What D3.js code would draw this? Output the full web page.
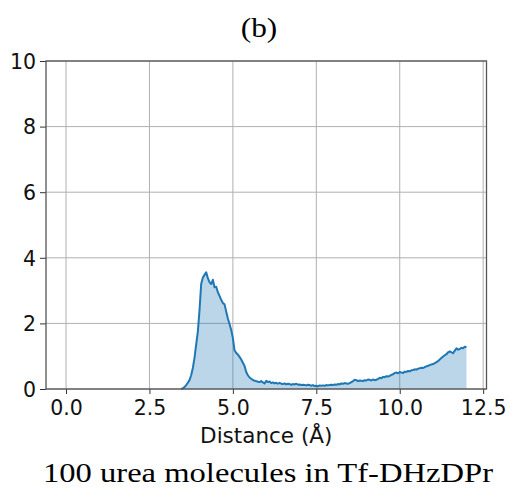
<!DOCTYPE html>
<html>
<head>
<meta charset="UTF-8">
<script src="https://d3js.org/d3.v7.min.js"></script>
<style>
  body { margin: 0; background: white; }
  svg { display: block; }
  .tick text { font-family: "DejaVu Sans", sans-serif; }
</style>
</head>
<body>
<div id="chart"></div>
<script>
// RDF values
const distance = [
  3.45, 3.50, 3.55, 3.60, 3.65, 3.70, 3.75, 3.80, 3.85, 3.90, 3.95,
  4.00, 4.05, 4.10, 4.15, 4.20, 4.25, 4.30, 4.35, 4.40, 4.45, 4.50, 4.55, 4.60, 4.65, 4.70, 4.75, 4.80, 4.85, 4.90, 4.95,
  5.00, 5.05, 5.10, 5.15, 5.20, 5.25, 5.30, 5.35, 5.40, 5.45, 5.50, 5.55, 5.60, 5.65, 5.70, 5.75, 5.80, 5.85, 5.90, 5.95,
  6.00, 6.05, 6.10, 6.15, 6.20, 6.25, 6.30, 6.35, 6.40, 6.45, 6.50, 6.55, 6.60, 6.65, 6.70, 6.75, 6.80, 6.85, 6.90, 6.95,
  7.00, 7.05, 7.10, 7.15, 7.20, 7.25, 7.30, 7.35, 7.40, 7.45, 7.50, 7.55, 7.60, 7.65, 7.70, 7.75, 7.80, 7.85, 7.90, 7.95,
  8.00, 8.05, 8.10, 8.15, 8.20, 8.25, 8.30, 8.35, 8.40, 8.45, 8.50, 8.55, 8.60, 8.65, 8.70, 8.75, 8.80, 8.85, 8.90, 8.95,
  9.00, 9.05, 9.10, 9.15, 9.20, 9.25, 9.30, 9.35, 9.40, 9.45, 9.50, 9.55, 9.60, 9.65, 9.70, 9.75, 9.80, 9.85, 9.90, 9.95,
  10.00, 10.05, 10.10, 10.15, 10.20, 10.25, 10.30, 10.35, 10.40, 10.45, 10.50, 10.55, 10.60, 10.65, 10.70, 10.75, 10.80, 10.85, 10.90, 10.95,
  11.00, 11.05, 11.10, 11.15, 11.20, 11.25, 11.30, 11.35, 11.40, 11.45, 11.50, 11.55, 11.60, 11.65, 11.70, 11.75, 11.80, 11.85, 11.90, 11.95,
  12.00
];
const gr = [
  0.00, 0.02, 0.06, 0.12, 0.19, 0.27, 0.42, 0.64, 0.95, 1.35, 1.75,
  2.40, 3.20, 3.40, 3.48, 3.56, 3.38, 3.26, 3.20, 3.33, 3.10, 3.12, 2.95, 2.84, 2.72, 2.62, 2.58, 2.36, 2.15, 1.98, 1.80,
  1.55, 1.18, 1.10, 1.05, 0.98, 0.90, 0.80, 0.70, 0.52, 0.42, 0.35, 0.31, 0.28, 0.25, 0.24, 0.22, 0.21, 0.24, 0.20, 0.17,
  0.25, 0.21, 0.23, 0.18, 0.20, 0.17, 0.19, 0.16, 0.19, 0.16, 0.15, 0.17, 0.14, 0.16, 0.15, 0.13, 0.15, 0.14, 0.16, 0.13,
  0.14, 0.12, 0.13, 0.12, 0.11, 0.13, 0.12, 0.10, 0.12, 0.09, 0.10, 0.08, 0.11, 0.10, 0.11, 0.10, 0.12, 0.11, 0.12, 0.13,
  0.12, 0.14, 0.13, 0.15, 0.14, 0.17, 0.16, 0.18, 0.17, 0.16, 0.18, 0.21, 0.24, 0.28, 0.27, 0.24, 0.26, 0.25, 0.24, 0.27,
  0.26, 0.29, 0.28, 0.26, 0.29, 0.27, 0.28, 0.31, 0.34, 0.33, 0.37, 0.36, 0.39, 0.38, 0.40, 0.43, 0.45, 0.49, 0.50, 0.48,
  0.52, 0.50, 0.49, 0.53, 0.52, 0.55, 0.54, 0.57, 0.58, 0.60, 0.59, 0.62, 0.63, 0.65, 0.64, 0.67, 0.69, 0.71, 0.73, 0.75,
  0.76, 0.79, 0.82, 0.85, 0.90, 0.95, 0.99, 1.03, 1.06, 1.12, 1.15, 1.12, 1.09, 1.17, 1.24, 1.20, 1.22, 1.26, 1.24, 1.29,
  1.28
];
const xTicks = [0, 2.5, 5, 7.5, 10, 12.5];
const yTicks = [0, 2, 4, 6, 8, 10];

const data = distance.map((d, i) => ({ d: d, g: gr[i] }));

const width = 512, height = 490;
const margin = { top: 61, right: 25.5, bottom: 101, left: 46 };

const svg = d3.select("#chart").append("svg")
  .attr("width", width)
  .attr("height", height);

const x = d3.scaleLinear().domain([-0.6, 12.6]).range([margin.left, width - margin.right]);
const y = d3.scaleLinear().domain([0, 10]).range([height - margin.bottom, margin.top]);

// grid
svg.append("g").selectAll("line.gx").data(xTicks).enter().append("line")
  .attr("x1", d => x(d)).attr("x2", d => x(d))
  .attr("y1", y(0)).attr("y2", y(10))
  .attr("stroke", "#b0b0b0").attr("stroke-width", 1);
svg.append("g").selectAll("line.gy").data(yTicks).enter().append("line")
  .attr("x1", x(-0.6)).attr("x2", x(12.6))
  .attr("y1", d => y(d)).attr("y2", d => y(d))
  .attr("stroke", "#b0b0b0").attr("stroke-width", 1);

// area + line
const area = d3.area().x(d => x(d.d)).y0(y(0)).y1(d => y(d.g));
const line = d3.line().x(d => x(d.d)).y(d => y(d.g));

svg.append("path").datum(data)
  .attr("fill", "#1f77b4").attr("fill-opacity", 0.3)
  .attr("d", area);
svg.append("path").datum(data)
  .attr("fill", "none").attr("stroke", "#1f77b4").attr("stroke-width", 2)
  .attr("stroke-linejoin", "round")
  .attr("d", line);

// axes
const xAxis = svg.append("g")
  .attr("transform", `translate(0,${y(0)})`)
  .call(d3.axisBottom(x).tickValues(xTicks).tickFormat(d3.format(".1f")).tickSize(5).tickPadding(6));
const yAxis = svg.append("g")
  .attr("transform", `translate(${x(-0.6)},0)`)
  .call(d3.axisLeft(y).tickValues(yTicks).tickFormat(d3.format("d")).tickSize(6).tickPadding(4));

[xAxis, yAxis].forEach(a => {
  a.select(".domain").remove();
  a.selectAll(".tick line").attr("stroke", "#333").attr("stroke-width", 1);
  a.selectAll(".tick text").attr("fill", "#111").style("font-size", "20.5px");
});
yAxis.selectAll(".tick text").attr("dy", "0.36em");

// spines
svg.append("rect")
  .attr("x", x(-0.6)).attr("y", y(10))
  .attr("width", x(12.6) - x(-0.6)).attr("height", y(0) - y(10))
  .attr("fill", "none").attr("stroke", "#555").attr("stroke-width", 1.3);

// labels
svg.append("text")
  .attr("x", x(6)).attr("y", 443)
  .attr("text-anchor", "middle")
  .style("font-family", "DejaVu Sans, sans-serif").style("font-size", "21.5px")
  .attr("fill", "#111")
  .text("Distance (Å)");

svg.append("text")
  .attr("x", 259).attr("y", 37)
  .attr("text-anchor", "middle")
  .style("font-family", "Liberation Serif, serif").style("font-size", "27px")
  .attr("textLength", 36.5).attr("lengthAdjust", "spacingAndGlyphs")
  .attr("fill", "#000")
  .text("(b)");

svg.append("text")
  .attr("x", 268).attr("y", 482)
  .attr("text-anchor", "middle")
  .style("font-family", "Liberation Serif, serif").style("font-size", "27px")
  .attr("textLength", 450).attr("lengthAdjust", "spacingAndGlyphs")
  .attr("fill", "#000")
  .text("100 urea molecules in Tf-DHzDPr");
</script>
</body>
</html>
